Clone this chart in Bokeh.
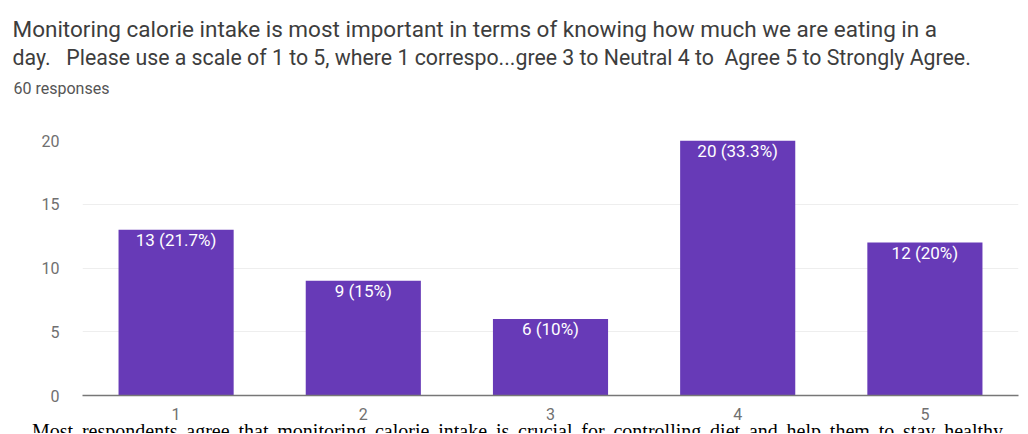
from bokeh.plotting import figure
from bokeh.layouts import column
from bokeh.models import ColumnDataSource, FactorRange, Range1d, Title, LabelSet, FixedTicker, Div
from bokeh.core.properties import value
from bokeh.embed import file_html
from bokeh.resources import INLINE

title_line1 = "Monitoring calorie intake is most important in terms of knowing how much we are eating in a"
title_line2 = "day.\u00a0\u00a0 Please use a scale of 1 to 5, where 1 correspo...gree 3 to Neutral 4 to\u00a0 Agree 5 to Strongly Agree."
subtitle = "60 responses"
footer_text = "Most respondents agree that monitoring calorie intake is crucial for controlling diet and help them to stay healthy"

categories = ["1", "2", "3", "4", "5"]
counts = [13, 9, 6, 20, 12]
labels = ["13 (21.7%)", "9 (15%)", "6 (10%)", "20 (33.3%)", "12 (20%)"]
y_ticks = [0, 5, 10, 15, 20]

BAR = "#673ab7"
FONT = "Roboto"
TITLE_COLOR = "#3d3d3d"
TICK_COLOR = "#707070"

source = ColumnDataSource(data=dict(cat=categories, count=counts, label=labels))

p = figure(
    width=1024, height=422,
    x_range=FactorRange(*categories, range_padding=0),
    y_range=Range1d(0, 20),
    output_backend="svg", toolbar_location=None,
    min_border_left=82, min_border_right=6, min_border_top=140, min_border_bottom=27,
)
p.outline_line_color = None
p.background_fill_color = "white"
p.border_fill_color = "white"

p.vbar(x="cat", top="count", width=0.615, source=source, fill_color=BAR, line_color=None)

p.add_layout(LabelSet(x="cat", y="count", text="label", source=source,
                      text_align="center", text_baseline="top", y_offset=0,
                      text_color="white", text_font=value(FONT), text_font_size="17px"))

# titles, added from closest to the frame to farthest
p.add_layout(Title(text=" ", text_font_size="1px", standoff=35), "above")
p.add_layout(Title(text=subtitle, align="left", offset=-69, standoff=10,
                   text_font=FONT, text_font_size="16px", text_font_style="normal",
                   text_color="#555555"), "above")
p.add_layout(Title(text=title_line2, align="left", offset=-70, standoff=3,
                   text_font=FONT, text_font_size="21.3px", text_font_style="normal",
                   text_color=TITLE_COLOR), "above")
p.add_layout(Title(text=title_line1, align="left", offset=-70, standoff=0,
                   text_font=FONT, text_font_size="22.5px", text_font_style="normal",
                   text_color=TITLE_COLOR), "above")

p.xaxis.axis_line_color = "#777777"
p.xaxis.axis_line_width = 1.5
p.xaxis.major_tick_line_color = None
p.xaxis.minor_tick_line_color = None
p.xaxis.major_label_text_color = TICK_COLOR
p.xaxis.major_label_text_font = FONT
p.xaxis.major_label_text_font_size = "16px"
p.xaxis.major_label_standoff = 6

p.yaxis.ticker = FixedTicker(ticks=y_ticks)
p.yaxis.axis_line_color = None
p.yaxis.major_tick_line_color = None
p.yaxis.minor_tick_line_color = None
p.yaxis.major_label_text_color = TICK_COLOR
p.yaxis.major_label_text_font = FONT
p.yaxis.major_label_text_font_size = "16px"
p.yaxis.major_label_standoff = 17

p.xgrid.grid_line_color = None
p.ygrid.grid_line_color = "#eeeeee"
p.ygrid.ticker = FixedTicker(ticks=y_ticks)

# footer strip: the next line of the source document, cut off at the bottom edge as in the reference
footer_html = (
    '<div style="margin-left:32px;width:971px;white-space:nowrap;'
    "font-family:'Liberation Serif',serif;font-size:20px;line-height:18px;color:#000;"
    'text-align:justify;text-align-last:justify;">' + footer_text + "</div>"
)
footer = Div(text=footer_html, width=1024, height=11, margin=0,
             styles={"overflow": "hidden"})

layout = column(p, footer, spacing=0)

open("out.html", "w").write(file_html(layout, INLINE))
